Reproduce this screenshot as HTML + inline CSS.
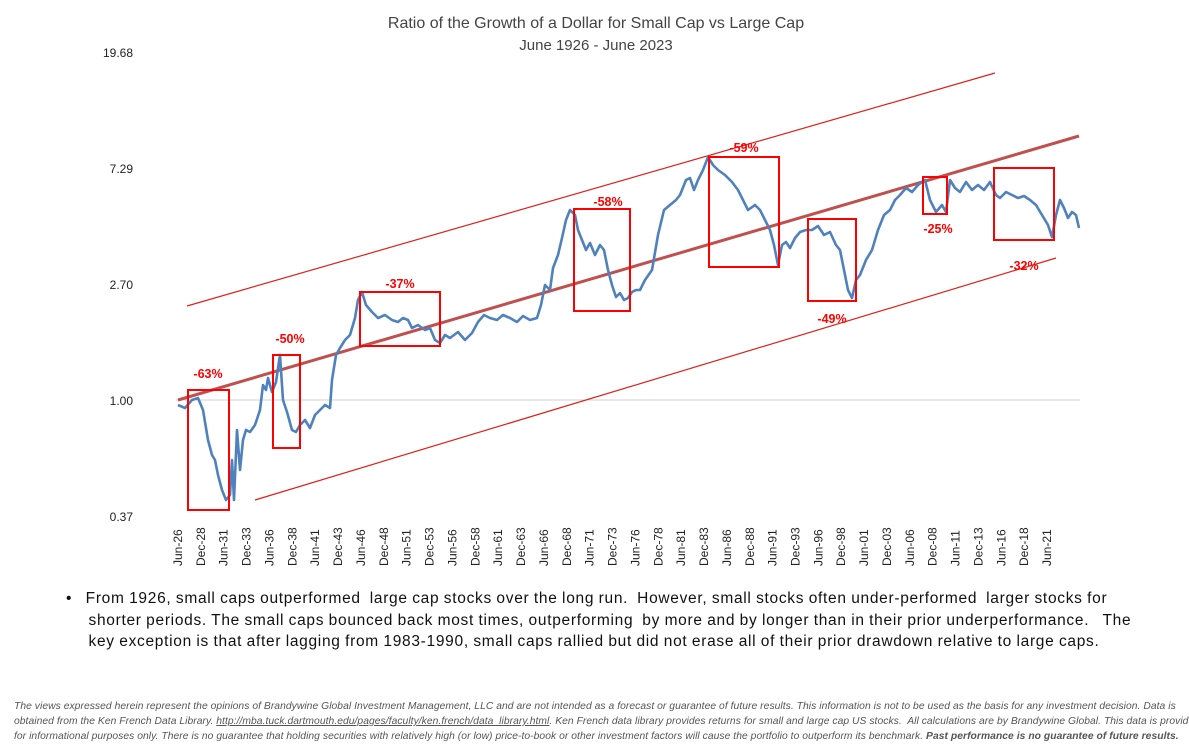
<!DOCTYPE html>
<html><head><meta charset="utf-8"><style>
body{margin:0;background:#fff;width:1189px;height:748px;overflow:hidden;font-family:"Liberation Sans",sans-serif;}
svg{position:absolute;left:0;top:0}
.b{position:absolute;left:66px;top:588px;width:1120px;font-size:15.5px;line-height:21.5px;color:#111;letter-spacing:0.7px;word-spacing:-0.5px}
.f{position:absolute;left:14px;top:699px;width:1175px;font-size:10.3px;line-height:15px;color:#555;font-style:italic;letter-spacing:0.05px;white-space:nowrap}
</style></head><body>
<svg width="1189" height="748" xmlns="http://www.w3.org/2000/svg" font-family="Liberation Sans, sans-serif">
<text x="596" y="28" text-anchor="middle" font-size="16" fill="#444">Ratio of the Growth of a Dollar for Small Cap vs Large Cap</text>
<text x="596" y="50" text-anchor="middle" font-size="15" fill="#444">June 1926 - June 2023</text>
<g font-size="12" fill="#222" text-anchor="end">
<text x="133" y="57">19.68</text><text x="133" y="173">7.29</text><text x="133" y="289">2.70</text><text x="133" y="405">1.00</text><text x="133" y="521">0.37</text></g>
<line x1="176" y1="400" x2="1080" y2="400" stroke="#d0d0d0"/>
<line x1="187" y1="306" x2="995" y2="73" stroke="#e0201a" stroke-width="1.2"/>
<line x1="255" y1="500" x2="1056" y2="258" stroke="#e0201a" stroke-width="1.2"/>
<line x1="178" y1="400" x2="1079" y2="136" stroke="#c0504d" stroke-width="3"/>
<polyline fill="none" stroke="#4f81bd" stroke-width="2.6" stroke-linejoin="round" points="178,405 185,408 192,400 198,398 203,410 208,440 212,455 215,460 218,475 222,490 226,500 230,495 232,460 234,500 237,430 240,470 243,440 246,430 250,432 255,425 260,410 263,385 266,390 268,378 272,392 276,382 280,355 283,400 287,412 292,430 296,432 300,425 305,420 310,428 315,415 320,410 325,405 330,408 332,380 336,355 340,348 345,340 350,335 355,318 358,300 362,292 366,305 372,312 378,318 385,315 392,320 398,322 403,318 408,320 412,328 418,325 425,330 430,328 435,340 440,343 445,335 450,338 458,332 465,340 472,333 478,322 484,315 490,318 497,320 503,315 510,318 517,322 523,316 530,320 537,318 541,305 545,285 550,290 553,268 558,255 562,238 566,220 570,210 575,215 578,230 582,240 586,250 590,243 595,255 600,245 604,250 608,270 612,285 616,297 620,293 624,300 628,298 632,292 636,290 640,290 645,280 652,270 658,235 664,210 670,205 676,200 680,195 686,180 690,178 694,190 698,180 703,170 708,157 713,165 718,170 725,175 732,182 738,190 743,200 748,210 755,205 760,210 765,220 770,230 774,245 778,265 782,245 786,242 790,248 795,238 800,232 806,230 812,230 818,226 824,235 830,232 836,245 840,250 844,270 848,290 852,298 856,280 860,275 866,260 872,250 878,230 884,215 890,210 895,200 900,195 906,188 912,192 918,185 925,180 930,200 936,212 942,205 946,212 950,180 955,188 960,192 966,182 972,190 978,185 984,190 990,182 996,195 1000,198 1006,192 1012,195 1018,198 1024,196 1030,200 1036,205 1042,215 1048,225 1052,237 1056,215 1060,200 1064,208 1068,218 1072,212 1076,215 1079,228"/>
<g fill="none" stroke="#ff0000" stroke-width="2">
<rect x="188" y="390" width="41" height="120"/><rect x="273" y="355" width="27" height="93"/><rect x="360" y="292" width="80" height="54"/><rect x="574" y="209" width="56" height="102"/><rect x="709" y="157" width="70" height="110"/><rect x="808" y="219" width="48" height="82"/><rect x="923" y="177" width="24" height="37"/><rect x="994" y="168" width="60" height="72"/></g>
<g fill="#ff0000" font-size="12.5" font-weight="bold" text-anchor="middle">
<text x="208" y="378">-63%</text><text x="290" y="343">-50%</text><text x="400" y="288">-37%</text><text x="608" y="206">-58%</text><text x="744" y="152">-59%</text><text x="832" y="323">-49%</text><text x="938" y="233">-25%</text><text x="1024" y="270">-32%</text></g>
<g font-size="12" fill="#222" id="xl"></g>
</svg>
<script>
var g=document.getElementById('xl'),s='';
for(var i=0;i<39;i++){var x=178+i*22.87+4;var m=i%2?'Dec':'Jun';var yr=Math.floor(1926+i*2.5)%100;var lab=m+'-'+(yr<10?'0':'')+yr;
s+='<text transform="translate('+x+',566) rotate(-90)">'+lab+'</text>';}
g.innerHTML=s;
</script>
<div class="b">•&nbsp;&nbsp; From 1926, small caps outperformed&nbsp; large cap stocks over the long run.&nbsp; However, small stocks often under-performed&nbsp; larger stocks for<br>&nbsp;&nbsp;&nbsp;&nbsp; shorter periods. The small caps bounced back most times, outperforming&nbsp; by more and by longer than in their prior underperformance.&nbsp;&nbsp; The<br>&nbsp;&nbsp;&nbsp;&nbsp; key exception is that after lagging from 1983-1990, small caps rallied but did not erase all of their prior drawdown relative to large caps.</div>
<div class="f">The views expressed herein represent the opinions of Brandywine Global Investment Management, LLC and are not intended as a forecast or guarantee of future results. This information is not to be used as the basis for any investment decision. Data is<br>obtained from the Ken French Data Library. <u>http://mba.tuck.dartmouth.edu/pages/faculty/ken.french/data_library.html</u>. Ken French data library provides returns for small and large cap US stocks.&nbsp; All calculations are by Brandywine Global. This data is provided<br>for informational purposes only. There is no guarantee that holding securities with relatively high (or low) price-to-book or other investment factors will cause the portfolio to outperform its benchmark. <b>Past performance is no guarantee of future results.</b></div>
</body></html>
